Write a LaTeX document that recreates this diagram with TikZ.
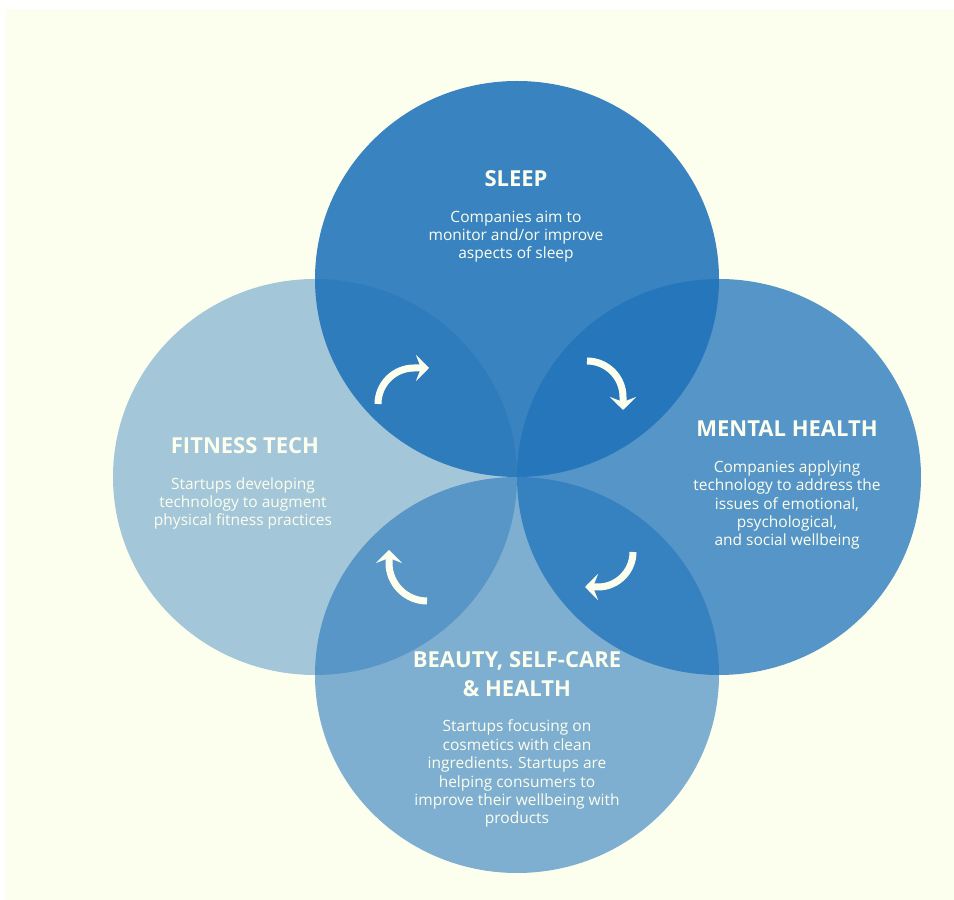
\documentclass[tikz,border=0pt]{standalone}
\usepackage{fontspec}
\setmainfont{Open Sans}
\usetikzlibrary{arrows.meta}

\begin{document}
\begin{tikzpicture}[x=1pt,y=1pt]
    \definecolor{pagecream}{RGB}{253,255,238}
    \definecolor{vennblue}{RGB}{31,114,186}

    % nodes sit on the baseline of their last line
    \tikzset{
        headline/.style={text=pagecream, font=\bfseries\fontsize{22}{29}\selectfont, align=center, anchor=base},
        blurb/.style={text=pagecream, font=\fontsize{15.5}{18.4}\selectfont, align=center, anchor=base},
        cyclearrow/.style={draw=pagecream, line width=7pt, -{Stealth[length=13pt, width=26pt, inset=5pt]}}
    }

    % Page
    \fill[white] (0,0) rectangle (954,900);
    \fill[pagecream] (6,0) rectangle (954,891);

    % Circles
    \fill[vennblue, fill opacity=0.40] (315,423) ellipse [x radius=202, y radius=198];
    \fill[vennblue, fill opacity=0.57] (517,225) ellipse [x radius=202, y radius=198];
    \fill[vennblue, fill opacity=0.75] (719,423) ellipse [x radius=202, y radius=198];
    \fill[vennblue, fill opacity=0.88] (517,621) ellipse [x radius=202, y radius=198];

    % Sleep
    \node[headline] (sleep) at (516,713) {SLEEP};
    \node[blurb] (sleeptext) at (516,641) {Companies aim to\\monitor and/or improve\\aspects of sleep};

    % Mental health
    \node[headline] (mental) at (787,463) {MENTAL HEALTH};
    \node[blurb] (mentaltext) at (787,354) {Companies applying\\technology to address the\\issues of emotional,\\psychological,\\and social wellbeing};

    % Fitness tech
    \node[headline] (fitness) at (245,446) {FITNESS TECH};
    \node[blurb] (fitnesstext) at (243,374) {Startups developing\\technology to augment\\physical fitness practices};

    % Beauty, self-care & health
    \node[headline] (beauty) at (517,203) {BEAUTY, SELF-CARE\\\& HEALTH};
    \node[blurb] (beautytext) at (517,76) {Startups focusing on\\cosmetics with clean\\ingredients. Startups are\\helping consumers to\\improve their wellbeing with\\products};

    % Arrows round the middle
    \draw[cyclearrow] (378,496) arc[start angle=180, end angle=90, radius=36] -- ++(15,0);
    \draw[cyclearrow] (587,539) arc[start angle=90, end angle=0, radius=36] -- ++(0,-13);
    \draw[cyclearrow] (633,348) arc[start angle=0, end angle=-90, radius=35] -- ++(-13,0);
    \draw[cyclearrow] (427,299) arc[start angle=270, end angle=180, radius=38] -- ++(0,13);
\end{tikzpicture}
\end{document}
